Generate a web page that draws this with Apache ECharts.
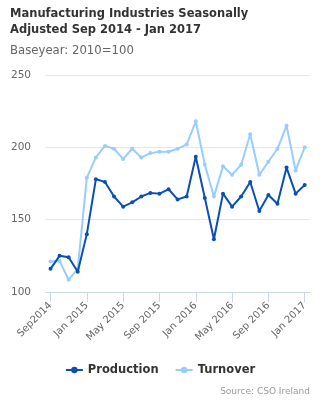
<!DOCTYPE html>
<html>
<head>
<meta charset="utf-8">
<script src="https://cdn.jsdelivr.net/npm/echarts@6/dist/echarts.min.js"></script>
<style>
html,body{margin:0;padding:0;background:#fff;}
#chart{width:320px;height:400px;}
</style>
</head>
<body>
<div id="chart"></div>
<script>
var months = ["Sep2014","Oct 2014","Nov 2014","Dec 2014","Jan 2015","Feb 2015","Mar 2015","Apr 2015","May 2015","Jun 2015","Jul 2015","Aug 2015","Sep 2015","Oct 2015","Nov 2015","Dec 2015","Jan 2016","Feb 2016","Mar 2016","Apr 2016","May 2016","Jun 2016","Jul 2016","Aug 2016","Sep 2016","Oct 2016","Nov 2016","Dec 2016","Jan 2017"];
var production = [116,125,124,114,140,178,176,166,159,162,166,168.5,168,171,164,166,193.5,165,136.5,168,159,166,176,156,167,161,186,168,174];
var turnover = [121,121.5,108.5,116,179,193,201,199,192,199,193,196,197,197,199,202,218,188,166,187,181,188,209,181,190,199,215,184,200];
var yMin = 100, yMax = 250, yInterval = 50;

var chart = echarts.init(document.getElementById('chart'), null, {renderer:'canvas'});
var font = 'DejaVu Sans';
chart.setOption({
  animation:false,
  textStyle:{fontFamily:font},
  title:[
    {text:'Manufacturing Industries Seasonally\nAdjusted Sep 2014 - Jan 2017', left:10, top:6, padding:0,
     textStyle:{fontFamily:font, fontSize:11.5, fontWeight:'bold', color:'#333', lineHeight:16}},
    {text:'Baseyear: 2010=100', left:10, top:45, padding:0,
     textStyle:{fontFamily:font, fontSize:11.7, fontWeight:'normal', color:'#666'}}
  ],
  grid:[
    {left:46, right:10, top:75, bottom:108},
    {left:50.5, right:15.3, top:75, bottom:108}
  ],
  xAxis:[
    {gridIndex:0, type:'value', min:0, max:1, axisLine:{show:true, lineStyle:{color:'#ccd6eb'}},
     axisTick:{show:false}, axisLabel:{show:false}, splitLine:{show:false}},
    {gridIndex:1, type:'category', data:months, boundaryGap:false,
     axisLine:{show:false},
     axisTick:{show:true, interval:3, length:10, lineStyle:{color:'#ccd6eb'}},
     axisLabel:{interval:3, rotate:45, margin:12, fontSize:10, color:'#666', fontFamily:font},
     splitLine:{show:false}}
  ],
  yAxis:[
    {gridIndex:0, type:'value', min:yMin, max:yMax, interval:yInterval,
     axisLine:{show:false}, axisTick:{show:false},
     axisLabel:{fontSize:10.5, color:'#666', margin:15, fontFamily:font},
     splitLine:{lineStyle:{color:'#e6e6e6'}}},
    {gridIndex:1, type:'value', min:yMin, max:yMax, interval:yInterval, show:false,
     splitLine:{show:false}}
  ],
  legend:{
    top:359, left:'center', itemWidth:17, itemHeight:8, itemGap:16,
    textStyle:{fontFamily:font, fontSize:11.5, fontWeight:'bold', color:'#333'},
    data:['Production','Turnover']
  },
  graphic:[{type:'text', right:10, top:387, style:{text:'Source: CSO Ireland', fontFamily:font, fontSize:9, fill:'#999'}}],
  series:[
    {name:'Turnover', type:'line', xAxisIndex:1, yAxisIndex:1, data:turnover, symbol:'circle', symbolSize:4, z:2,
     lineStyle:{width:2, color:'#99ccff'}, itemStyle:{color:'#99ccff'}},
    {name:'Production', type:'line', xAxisIndex:1, yAxisIndex:1, data:production, symbol:'circle', symbolSize:4, z:3,
     lineStyle:{width:2, color:'#0a50b4'}, itemStyle:{color:'#0a50b4'}}
  ]
});
</script>
</body>
</html>
